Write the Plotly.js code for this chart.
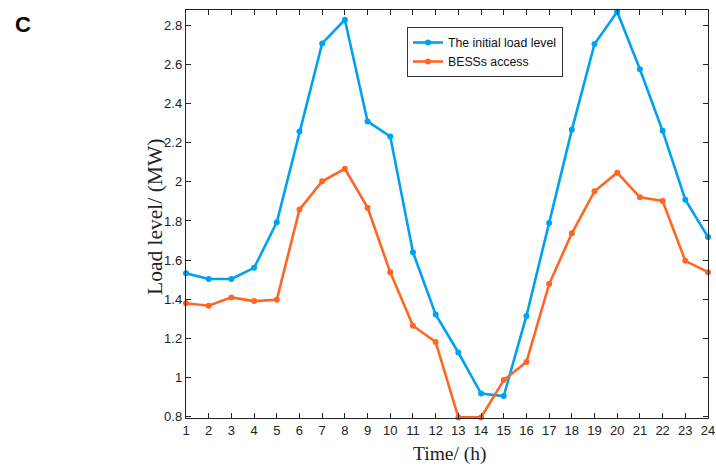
<!DOCTYPE html>
<html>
<head>
<meta charset="utf-8">
<script src="https://cdn.plot.ly/plotly-3.0.1.min.js"></script>
<style>html,body{margin:0;padding:0;background:#fff;}#chart{width:716px;height:466px;}</style>
</head>
<body>
<div id="chart"></div>
<script>
const hours = [1,2,3,4,5,6,7,8,9,10,11,12,13,14,15,16,17,18,19,20,21,22,23,24];
const initialLoad = [1.532,1.503,1.503,1.560,1.793,2.258,2.708,2.829,2.309,2.232,1.640,1.322,1.127,0.917,0.904,1.314,1.790,2.266,2.705,2.870,2.576,2.261,1.909,1.718];
const bessAccess = [1.379,1.366,1.409,1.390,1.397,1.858,2.003,2.067,1.868,1.537,1.264,1.181,0.795,0.795,0.986,1.078,1.477,1.737,1.952,2.047,1.921,1.902,1.596,1.538];
const seriesNames = ['The initial load level','BESSs access'];
const yTicks = [0.8,1,1.2,1.4,1.6,1.8,2,2.2,2.4,2.6,2.8];
const yTickText = ['0.8','1','1.2','1.4','1.6','1.8','2','2.2','2.4','2.6','2.8'];
const xTitle = 'Time/ (h)';
const yTitle = 'Load level/ (MW)';
const panelLabel = 'C';

const blue = 'rgb(0,161,242)';
const orange = 'rgb(255,102,36)';

const traces = [
  {x: hours, y: initialLoad, name: seriesNames[0], mode: 'lines+markers', cliponaxis: false,
   line: {color: blue, width: 2.6}, marker: {color: blue, size: 6, symbol: 'circle'}},
  {x: hours, y: bessAccess, name: seriesNames[1], mode: 'lines+markers', cliponaxis: false,
   line: {color: orange, width: 2.6}, marker: {color: orange, size: 6, symbol: 'circle'}}
];

const axisCommon = {
  showgrid: false, zeroline: false, showline: true, linecolor: '#222', linewidth: 1.2,
  mirror: 'ticks', ticks: 'inside', ticklen: 5, tickcolor: '#222', tickwidth: 1,
  ticklabeloverflow: 'allow',
  tickfont: {family: 'Liberation Sans, Arial, sans-serif', size: 13, color: '#222'}
};

const L = 186, R = 8, T = 10, B = 48, W = 716, H = 466;
const pw = W - L - R, ph = H - T - B;
const px = v => (v - L) / pw;
const py = v => 1 - (v - T) / ph;

const layout = {
  width: W, height: H,
  margin: {l: L, r: R, t: T, b: B},
  paper_bgcolor: '#fff', plot_bgcolor: '#fff',
  showlegend: true,
  xaxis: Object.assign({}, axisCommon, {
    range: [1, 24], tickvals: hours, ticktext: hours.map(String)
  }),
  yaxis: Object.assign({}, axisCommon, {
    range: [0.792, 2.879], tickvals: yTicks, ticktext: yTickText
  }),
  legend: {
    x: px(407), y: py(27), xanchor: 'left', yanchor: 'top',
    bgcolor: '#fff', bordercolor: '#333', borderwidth: 1,
    font: {family: 'Liberation Sans, Arial, sans-serif', size: 12.3, color: '#111'},
    tracegroupgap: 0
  },
  annotations: [
    {text: '<b>' + panelLabel + '</b>', xref: 'paper', yref: 'paper', x: px(23), y: py(25),
     xanchor: 'center', yanchor: 'middle', showarrow: false,
     font: {family: 'Liberation Sans, Arial, sans-serif', size: 22, color: '#000'}},
    {text: xTitle, xref: 'paper', yref: 'paper', x: px(450), y: py(454),
     xanchor: 'center', yanchor: 'middle', showarrow: false,
     font: {family: 'Liberation Serif, Times New Roman, serif', size: 19.5, color: '#222'}},
    {text: yTitle, xref: 'paper', yref: 'paper', x: px(155), y: py(217), textangle: -90,
     xanchor: 'center', yanchor: 'middle', showarrow: false,
     font: {family: 'Liberation Serif, Times New Roman, serif', size: 21.5, color: '#222'}}
  ]
};

Plotly.newPlot('chart', traces, layout, {displayModeBar: false, staticPlot: true});
</script>
</body>
</html>
